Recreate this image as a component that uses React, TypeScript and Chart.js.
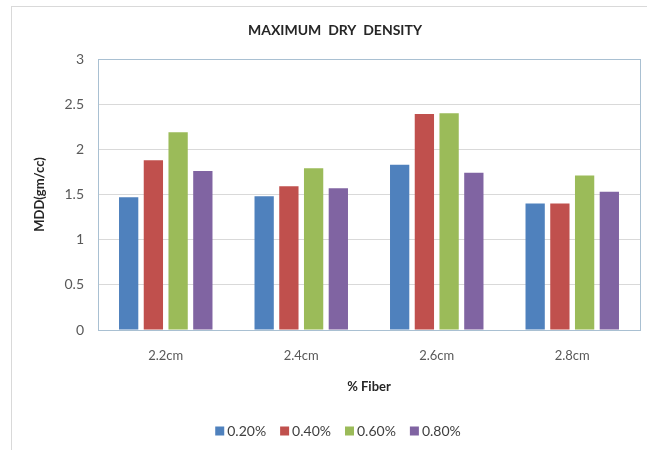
import React, { useEffect, useRef } from 'react';
import { Chart, registerables } from 'chart.js';

Chart.register(...registerables);

const chartTitle = 'MAXIMUM  DRY  DENSITY';
const categories = ['2.2cm', '2.4cm', '2.6cm', '2.8cm'];
const seriesLabels = ['0.20%', '0.40%', '0.60%', '0.80%'];
const fiber020 = [1.47, 1.48, 1.83, 1.40];
const fiber040 = [1.88, 1.59, 2.39, 1.40];
const fiber060 = [2.19, 1.79, 2.40, 1.71];
const fiber080 = [1.76, 1.57, 1.74, 1.53];
const seriesColors = ['#4F81BD', '#C0504D', '#9BBB59', '#8064A2'];
const yMin = 0;
const yMax = 3;
const yStep = 0.5;
const xTitle = '% Fiber';
const yTitle = 'MDD(gm/cc)';

const FONT = 'Lato, "Open Sans", sans-serif';

const decorPlugin = {
  id: 'decor',
  beforeDraw(chart: any) {
    const { ctx, width, height } = chart;
    ctx.save();
    ctx.fillStyle = '#ffffff';
    ctx.fillRect(0, 0, width, height);
    ctx.strokeStyle = '#d9d9d9';
    ctx.lineWidth = 1;
    ctx.strokeRect(11.5, 6.5, width + 10, height + 10);
    ctx.restore();
  },
  beforeDatasetsDraw(chart: any) {
    const { ctx, chartArea } = chart;
    ctx.save();
    ctx.strokeStyle = '#a9c0d2';
    ctx.lineWidth = 1;
    ctx.strokeRect(
      Math.round(chartArea.left) + 0.5,
      Math.round(chartArea.top) + 0.5,
      Math.round(chartArea.right - chartArea.left),
      Math.round(chartArea.bottom - chartArea.top)
    );
    ctx.restore();
  },
  afterDraw(chart: any) {
    const { ctx } = chart;
    ctx.save();
    // title
    ctx.fillStyle = '#262626';
    ctx.font = `bold 14px ${FONT}`;
    ctx.textAlign = 'center';
    ctx.textBaseline = 'middle';
    ctx.fillText(chartTitle, 335, 30);
    // legend
    ctx.font = `14px ${FONT}`;
    ctx.textAlign = 'left';
    const box = 9;
    const gapBoxText = 3;
    const gapItems = 14;
    const ds = chart.data.datasets;
    let total = 0;
    const widths = ds.map((d: any) => ctx.measureText(d.label).width);
    widths.forEach((w: number) => (total += box + gapBoxText + w));
    total += gapItems * (ds.length - 1);
    let x = 338 - total / 2;
    const y = 431;
    ds.forEach((d: any, i: number) => {
      ctx.fillStyle = d.backgroundColor;
      ctx.fillRect(x, y - box / 2, box, box);
      ctx.fillStyle = '#404040';
      ctx.fillText(d.label, x + box + gapBoxText, y);
      x += box + gapBoxText + widths[i] + gapItems;
    });
    ctx.restore();
  },
};

export default function App() {
  const canvasRef = useRef<HTMLCanvasElement | null>(null);

  useEffect(() => {
    const canvas = canvasRef.current;
    if (!canvas) return;
    const seriesData = [fiber020, fiber040, fiber060, fiber080];
    const chart = new Chart(canvas, {
      type: 'bar',
      data: {
        labels: categories,
        datasets: seriesLabels.map((label, i) => ({
          label,
          data: seriesData[i],
          backgroundColor: seriesColors[i],
          borderWidth: 0,
          categoryPercentage: 0.73,
          barPercentage: 0.78,
        })),
      },
      options: {
        responsive: false,
        animation: false,
        layout: { padding: { left: 11, top: 59, right: 7, bottom: 50 } },
        plugins: {
          legend: { display: false },
          title: { display: false },
          tooltip: { enabled: false },
        },
        scales: {
          x: {
            grid: { display: false, drawTicks: false },
            border: { display: false },
            ticks: {
              color: '#595959',
              font: { family: FONT, size: 13 },
              padding: 18,
            },
            title: {
              display: true,
              text: xTitle,
              color: '#262626',
              font: { family: FONT, size: 13, weight: 'bold' },
              padding: { top: 0, bottom: 5 },
            },
            afterFit(scale: any) {
              scale.height = 70;
            },
          },
          y: {
            min: yMin,
            max: yMax,
            grid: { color: '#d9d9d9', drawTicks: false },
            border: { display: false },
            ticks: {
              stepSize: yStep,
              color: '#595959',
              font: { family: FONT, size: 14 },
              padding: 14,
              callback: (v: any) => String(Number(v)),
            },
            title: {
              display: true,
              text: yTitle,
              color: '#262626',
              font: { family: FONT, size: 13, weight: 'bold' },
              padding: { top: 21, bottom: 0 },
            },
            afterFit(scale: any) {
              scale.width = 87;
            },
          },
        },
      },
      plugins: [decorPlugin],
    });
    return () => chart.destroy();
  }, []);

  return (
    <div style={{ position: 'fixed', left: 0, top: 0, width: 647, height: 450, background: '#fff' }}>
      <canvas ref={canvasRef} width={647} height={450} />
    </div>
  );
}
